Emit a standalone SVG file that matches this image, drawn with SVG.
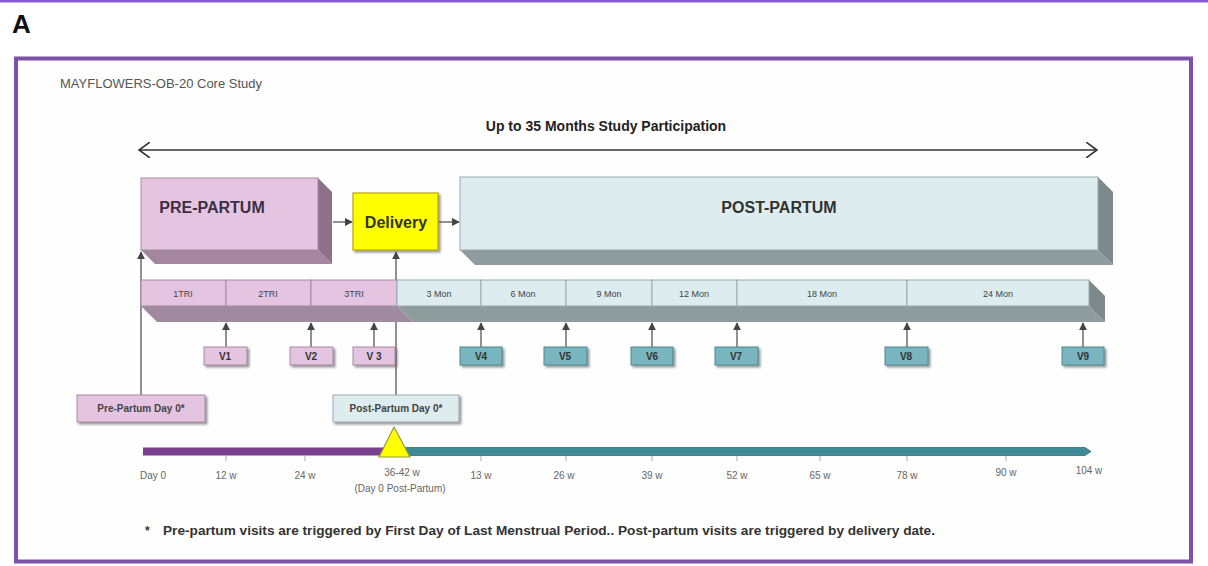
<svg xmlns="http://www.w3.org/2000/svg" width="1208" height="566" viewBox="0 0 1208 566">
<defs>
<style>
text{font-family:"Liberation Sans",Arial,sans-serif;fill:#333}
.seg{font-size:9px;text-anchor:middle;fill:#444}
.vis{font-size:10px;font-weight:bold;text-anchor:middle;fill:#333}
.tick{font-size:10px;text-anchor:middle;fill:#666}
.pre{fill:#e5c4e1;stroke:#a58aa2;stroke-width:1}
.post{fill:#ddecef;stroke:#9aa9ab;stroke-width:1}
.teal{fill:#78b5be;stroke:#4d8890;stroke-width:1}
.conn{stroke:#555;stroke-width:1.3;fill:none}
</style>
<marker id="ah" viewBox="0 0 10 10" refX="9" refY="5" markerWidth="8" markerHeight="8" orient="auto" markerUnits="userSpaceOnUse">
<path d="M0,0 L10,5 L0,10 z" fill="#444"/>
</marker>
<marker id="open" viewBox="0 0 12 16" refX="11" refY="8" markerWidth="12" markerHeight="16" orient="auto-start-reverse" markerUnits="userSpaceOnUse">
<path d="M0,0 L11,8 L0,16" fill="none" stroke="#333" stroke-width="1.6"/>
</marker>
<filter id="sh" x="-10%" y="-10%" width="130%" height="140%">
<feDropShadow dx="2" dy="2" stdDeviation="1" flood-color="#555" flood-opacity="0.6"/>
</filter>
</defs>
<rect x="0" y="0" width="1208" height="566" fill="#ffffff"/>
<rect x="0" y="0" width="1208" height="2.5" fill="#8a5ad0"/>
<text x="12" y="33" style="font-size:26px;font-weight:bold;fill:#111">A</text>
<rect x="16" y="58.5" width="1175" height="503" fill="#fefefe" stroke="#7b52a6" stroke-width="4"/>
<text x="60" y="88" style="font-size:13px;fill:#555">MAYFLOWERS-OB-20 Core Study</text>
<text x="606" y="131" style="font-size:14px;font-weight:bold;text-anchor:middle;fill:#222">Up to 35 Months Study Participation</text>

<g id="connectors">
<line x1="139" y1="150" x2="1097" y2="150" stroke="#333" stroke-width="1.6" marker-start="url(#open)" marker-end="url(#open)"/>
<line class="conn" x1="333" y1="222" x2="352" y2="222" marker-end="url(#ah)"/>
<line class="conn" x1="439" y1="222" x2="459" y2="222" marker-end="url(#ah)"/>
<line class="conn" x1="141" y1="395" x2="141" y2="252" marker-end="url(#ah)"/>
<line class="conn" x1="396" y1="395" x2="396" y2="252" marker-end="url(#ah)"/>
<line class="conn" x1="226" y1="347" x2="226" y2="323" marker-end="url(#ah)"/>
<line class="conn" x1="311" y1="347" x2="311" y2="323" marker-end="url(#ah)"/>
<line class="conn" x1="374" y1="347" x2="374" y2="323" marker-end="url(#ah)"/>
<line class="conn" x1="481" y1="347" x2="481" y2="323" marker-end="url(#ah)"/>
<line class="conn" x1="566" y1="347" x2="566" y2="323" marker-end="url(#ah)"/>
<line class="conn" x1="652" y1="347" x2="652" y2="323" marker-end="url(#ah)"/>
<line class="conn" x1="737" y1="347" x2="737" y2="323" marker-end="url(#ah)"/>
<line class="conn" x1="907" y1="347" x2="907" y2="323" marker-end="url(#ah)"/>
<line class="conn" x1="1083" y1="347" x2="1083" y2="323" marker-end="url(#ah)"/>
</g>

<g id="pre-partum">
<polygon points="141,250 318,250 332,264 155,264" fill="#a4879f"/>
<polygon points="318,178 332,192 332,264 318,250" fill="#8e7189"/>
<rect x="141" y="178" width="177" height="72" class="pre"/>
<text x="212" y="213" style="font-size:16px;font-weight:bold;text-anchor:middle;fill:#3a3045">PRE-PARTUM</text>
</g>

<g id="delivery">
<rect x="353" y="193" width="85" height="57" fill="#ffff00" stroke="#b8a800" stroke-width="1.2" filter="url(#sh)"/>
<text x="396" y="228" style="font-size:16px;font-weight:bold;text-anchor:middle;fill:#333">Delivery</text>
</g>

<g id="post-partum">
<polygon points="460,250 1098,250 1113,265 475,265" fill="#8f9c9d"/>
<polygon points="1098,177 1113,192 1113,265 1098,250" fill="#7d8a8b"/>
<rect x="460" y="177" width="638" height="73" class="post"/>
<text x="779" y="213" style="font-size:16px;font-weight:bold;text-anchor:middle;fill:#333">POST-PARTUM</text>
</g>

<g id="segment-bar">
<polygon points="141,306 397,306 413,322 157,322" fill="#a08aa0"/>
<polygon points="397,306 1089,306 1105,322 413,322" fill="#8e9c9d"/>
<polygon points="1089,280 1105,296 1105,322 1089,306" fill="#7d8a8b"/>
<rect x="141" y="280" width="85" height="26" class="pre"/>
<rect x="226" y="280" width="85" height="26" class="pre"/>
<rect x="311" y="280" width="86" height="26" class="pre"/>
<rect x="397" y="280" width="84" height="26" class="post"/>
<rect x="481" y="280" width="85" height="26" class="post"/>
<rect x="566" y="280" width="86" height="26" class="post"/>
<rect x="652" y="280" width="85" height="26" class="post"/>
<rect x="737" y="280" width="170" height="26" class="post"/>
<rect x="907" y="280" width="182" height="26" class="post"/>
<text class="seg" x="183" y="297">1TRI</text>
<text class="seg" x="268" y="297">2TRI</text>
<text class="seg" x="354" y="297">3TRI</text>
<text class="seg" x="439" y="297">3 Mon</text>
<text class="seg" x="523" y="297">6 Mon</text>
<text class="seg" x="609" y="297">9 Mon</text>
<text class="seg" x="694" y="297">12 Mon</text>
<text class="seg" x="822" y="297">18 Mon</text>
<text class="seg" x="998" y="297">24 Mon</text>
</g>

<g id="v1"><rect x="204" y="347" width="43" height="18" class="pre" filter="url(#sh)"/><text class="vis" x="225" y="360">V1</text></g>
<g id="v2"><rect x="290" y="347" width="43" height="18" class="pre" filter="url(#sh)"/><text class="vis" x="311" y="360">V2</text></g>
<g id="v3"><rect x="353" y="347" width="42" height="18" class="pre" filter="url(#sh)"/><text class="vis" x="374" y="360">V 3</text></g>
<g id="v4"><rect x="460" y="347" width="42" height="18" class="teal" filter="url(#sh)"/><text class="vis" x="481" y="360">V4</text></g>
<g id="v5"><rect x="544" y="347" width="43" height="18" class="teal" filter="url(#sh)"/><text class="vis" x="565" y="360">V5</text></g>
<g id="v6"><rect x="631" y="347" width="42" height="18" class="teal" filter="url(#sh)"/><text class="vis" x="652" y="360">V6</text></g>
<g id="v7"><rect x="715" y="347" width="43" height="18" class="teal" filter="url(#sh)"/><text class="vis" x="736" y="360">V7</text></g>
<g id="v8"><rect x="885" y="347" width="43" height="18" class="teal" filter="url(#sh)"/><text class="vis" x="906" y="360">V8</text></g>
<g id="v9"><rect x="1062" y="347" width="42" height="18" class="teal" filter="url(#sh)"/><text class="vis" x="1083" y="360">V9</text></g>

<g id="pre-day0">
<rect x="77" y="395" width="128" height="27" class="pre" filter="url(#sh)"/>
<text x="141" y="412" style="font-size:10px;font-weight:bold;text-anchor:middle;fill:#444">Pre-Partum Day 0*</text>
</g>
<g id="post-day0">
<rect x="333" y="395" width="126" height="27" class="post" filter="url(#sh)"/>
<text x="396" y="412" style="font-size:10px;font-weight:bold;text-anchor:middle;fill:#444">Post-Partum Day 0*</text>
</g>

<g id="timeline">
<rect x="143" y="447.5" width="254" height="8" fill="#7a3f8e"/>
<polygon points="397,447.5 1085,447.5 1091,451.5 1085,455.5 397,455.5" fill="#3e8a97" stroke="#2f6f7a" stroke-width="0.8"/>
<g stroke="#aaa" stroke-width="1">
<line x1="226" y1="456" x2="226" y2="461"/><line x1="305" y1="456" x2="305" y2="461"/>
<line x1="481" y1="456" x2="481" y2="461"/><line x1="566" y1="456" x2="566" y2="461"/>
<line x1="652" y1="456" x2="652" y2="461"/><line x1="737" y1="456" x2="737" y2="461"/>
<line x1="820" y1="456" x2="820" y2="461"/><line x1="907" y1="456" x2="907" y2="461"/>
<line x1="1006" y1="456" x2="1006" y2="461"/>
</g>
<polygon points="394,427 379,457 410,457" fill="#ffff00" stroke="#9a9a3a" stroke-width="1.2"/>
<text class="tick" x="153" y="479">Day 0</text>
<text class="tick" x="226" y="479">12 w</text>
<text class="tick" x="305" y="479">24 w</text>
<text class="tick" x="402" y="476">36-42 w</text>
<text class="tick" x="400" y="492">(Day 0 Post-Partum)</text>
<text class="tick" x="481" y="479">13 w</text>
<text class="tick" x="564" y="479">26 w</text>
<text class="tick" x="652" y="479">39 w</text>
<text class="tick" x="737" y="479">52 w</text>
<text class="tick" x="820" y="479">65 w</text>
<text class="tick" x="907" y="479">78 w</text>
<text class="tick" x="1006" y="476">90 w</text>
<text class="tick" x="1089" y="474">104 w</text>
</g>

<text x="145" y="535" style="font-size:12px;font-weight:bold;fill:#333">*</text>
<text x="163" y="535" textLength="772" lengthAdjust="spacingAndGlyphs" style="font-size:12px;font-weight:bold;fill:#333">Pre-partum visits are triggered by First Day of Last Menstrual Period.. Post-partum visits are triggered by delivery date.</text>
</svg>
